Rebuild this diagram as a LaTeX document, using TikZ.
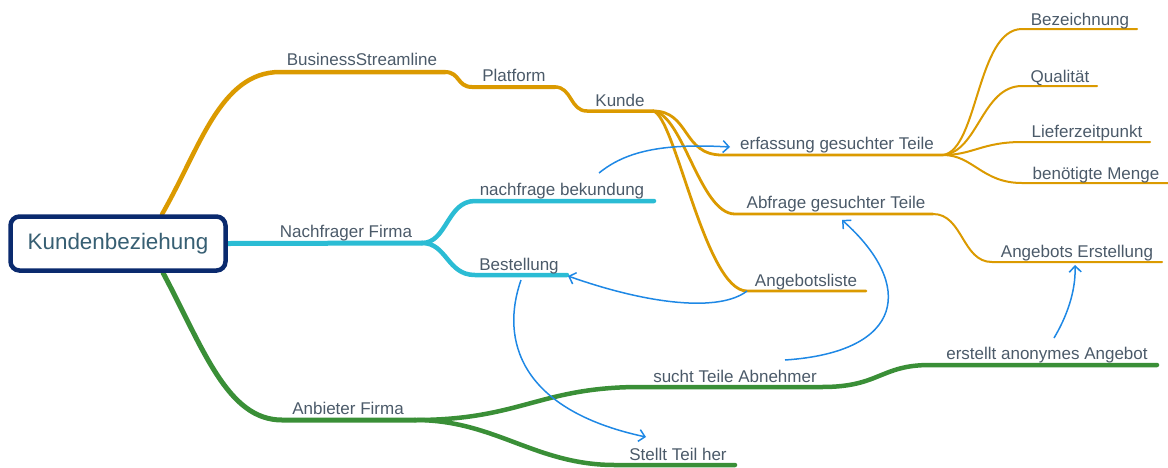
\documentclass[tikz,border=0pt]{standalone}
\usepackage{fontspec}
\setmainfont{Liberation Sans}
\usetikzlibrary{arrows.meta}
\definecolor{orangeM}{RGB}{219,154,0}
\definecolor{cyanM}{RGB}{43,188,212}
\definecolor{greenM}{RGB}{58,143,55}
\definecolor{navyM}{RGB}{10,42,110}
\definecolor{blueA}{RGB}{30,136,229}
\definecolor{txtM}{RGB}{75,90,105}
\definecolor{rootTxt}{RGB}{55,95,115}
\pgfdeclarelayer{bg}
\pgfsetlayers{bg,main}
\begin{document}
\begin{tikzpicture}[x=1pt,y=-1pt,
  lbl/.style={font=\fontsize{17}{19}\selectfont, text=txtM, inner sep=0pt, anchor=base},
  br/.style={line cap=round, line join=round},
  rel/.style={blueA, line width=1.5pt, -{Straight Barb[length=6pt,width=12pt]}},
]
\useasboundingbox (0,0) rectangle (1168,467);
\node[draw=navyM, line width=4.5pt, rounded corners=9pt, fill=white,
      minimum width=215pt, minimum height=54pt, inner sep=0pt,
      font=\fontsize{22.4}{26}\selectfont, text=rootTxt] (root) at (118,243.5) {Kundenbeziehung};

% coordinates
\coordinate (o0) at ([xshift=44pt]root.north);
\coordinate (bsA) at (280,72);  \coordinate (bsB) at (445,72);
\coordinate (plA) at (472,87);  \coordinate (plB) at (555,87);
\coordinate (kuA) at (587,111); \coordinate (kuB) at (653,111);
\coordinate (erA) at (722,155); \coordinate (erB) at (943,155);
\coordinate (abA) at (735,214); \coordinate (abB) at (933,214);
\coordinate (anA) at (747,291); \coordinate (anB) at (866,291);
\coordinate (bzA) at (1022,29); \coordinate (bzB) at (1137,29);
\coordinate (quA) at (1022,86); \coordinate (quB) at (1097,86);
\coordinate (lzA) at (1022,142); \coordinate (lzB) at (1150,142);
\coordinate (bmA) at (1022,183); \coordinate (bmB) at (1168,183);
\coordinate (aeA) at (992,262); \coordinate (aeB) at (1162,262);
\coordinate (c0) at (root.east); \coordinate (nfB) at (422,243);
\coordinate (nbA) at (475,201); \coordinate (nbB) at (654,201);
\coordinate (beA) at (475,275); \coordinate (beB) at (567,275);
\coordinate (g0) at ([xshift=45pt]root.south);
\coordinate (afA) at (282,420); \coordinate (afB) at (415,420);
\coordinate (stA) at (640,387); \coordinate (stB) at (822,387);
\coordinate (eaA) at (930,365); \coordinate (eaB) at (1157,365);
\coordinate (thA) at (615,465); \coordinate (thB) at (735,465);

\begin{pgfonlayer}{bg}
% orange branch
\draw[br, orangeM, line width=4.5pt] (o0) .. controls +(38,-66) and +(-60,0) .. (bsA) -- (bsB);
\draw[br, orangeM, line width=4pt] (bsB) .. controls +(15,0) and +(-15,0) .. (plA) -- (plB);
\draw[br, orangeM, line width=3.5pt] (plB) .. controls +(17,0) and +(-17,0) .. (kuA) -- (kuB);
\draw[br, orangeM, line width=2.8pt] (kuB) .. controls +(37,0) and +(-40,0) .. (erA) -- (erB);
\draw[br, orangeM, line width=2.8pt] (kuB) .. controls +(30,3) and +(-35,0) .. (abA) -- (abB);
\draw[br, orangeM, line width=2.8pt] (kuB) .. controls +(22,4) and +(-42,0) .. (anA) -- (anB);
\draw[br, orangeM, line width=2pt] (erB) .. controls +(35,-5) and +(-45,0) .. (bzA) -- (bzB);
\draw[br, orangeM, line width=2pt] (erB) .. controls +(35,-3) and +(-40,0) .. (quA) -- (quB);
\draw[br, orangeM, line width=2pt] (erB) .. controls +(30,0) and +(-40,0) .. (lzA) -- (lzB);
\draw[br, orangeM, line width=2pt] (erB) .. controls +(30,0) and +(-40,0) .. (bmA) -- (bmB);
\draw[br, orangeM, line width=2pt] (abB) .. controls +(30,0) and +(-30,0) .. (aeA) -- (aeB);
% cyan branch
\draw[br, cyanM, line width=5pt] (c0) -- (nfB);
\draw[br, cyanM, line width=4.5pt] (nfB) .. controls +(25,0) and +(-28,0) .. (nbA) -- (nbB);
\draw[br, cyanM, line width=4.5pt] (nfB) .. controls +(25,0) and +(-28,0) .. (beA) -- (beB);
% green branch
\draw[br, greenM, line width=5pt] (g0) .. controls +(40,75) and +(-55,0) .. (afA) -- (afB);
\draw[br, greenM, line width=4.5pt] (afB) .. controls +(105,0) and +(-100,0) .. (stA) -- (stB)
   .. controls +(58,0) and +(-50,0) .. (eaA) -- (eaB);
\draw[br, greenM, line width=4.5pt] (afB) .. controls +(80,0) and +(-80,0) .. (thA) -- (thB);
\end{pgfonlayer}

% labels
\node[lbl] (tBS) at (362,65) {BusinessStreamline};
\node[lbl] (tPL) at (514,81) {Platform};
\node[lbl] (tKU) at (620,106) {Kunde};
\node[lbl] (tER) at (837,149) {erfassung gesuchter Teile};
\node[lbl] (tAB) at (836,208) {Abfrage gesuchter Teile};
\node[lbl] (tAN) at (806,286) {Angebotsliste};
\node[lbl] (tBZ) at (1080,25) {Bezeichnung};
\node[lbl] (tQU) at (1060,82) {Qualität};
\node[lbl] (tLZ) at (1087,137) {Lieferzeitpunkt};
\node[lbl] (tBM) at (1096,179) {benötigte Menge};
\node[lbl] (tAE) at (1077,257) {Angebots Erstellung};
\node[lbl] (tNF) at (346,237) {Nachfrager Firma};
\node[lbl] (tNB) at (562,195) {nachfrage bekundung};
\node[lbl] (tBE) at (519,270) {Bestellung};
\node[lbl] (tAF) at (348,414) {Anbieter Firma};
\node[lbl] (tST) at (735,382) {sucht Teile Abnehmer};
\node[lbl] (tEA) at (1047,359) {erstellt anonymes Angebot};
\node[lbl] (tTH) at (678,460) {Stellt Teil her};

% relations
\coordinate (r1s) at (599,173); \coordinate (r1e) at (730,147);
\coordinate (r2e) at (568,276);
\coordinate (r3s) at (785,360); \coordinate (r3e) at (842,220);
\coordinate (r4s) at (1054,338); \coordinate (r4e) at (1075,265);
\coordinate (r5s) at (521,280); \coordinate (r5e) at (646,437);
\draw[rel] (r1s) .. controls (625,152) and (660,143) .. (r1e);
\draw[rel] (anA) .. controls (720,312) and (650,305) .. (r2e);
\draw[rel] (r3s) .. controls (905,352) and (915,285) .. (r3e);
\draw[rel] (r4s) .. controls (1066,318) and (1076,292) .. (r4e);
\draw[rel] (r5s) .. controls (500,340) and (520,410) .. (r5e);
\end{tikzpicture}
\end{document}
